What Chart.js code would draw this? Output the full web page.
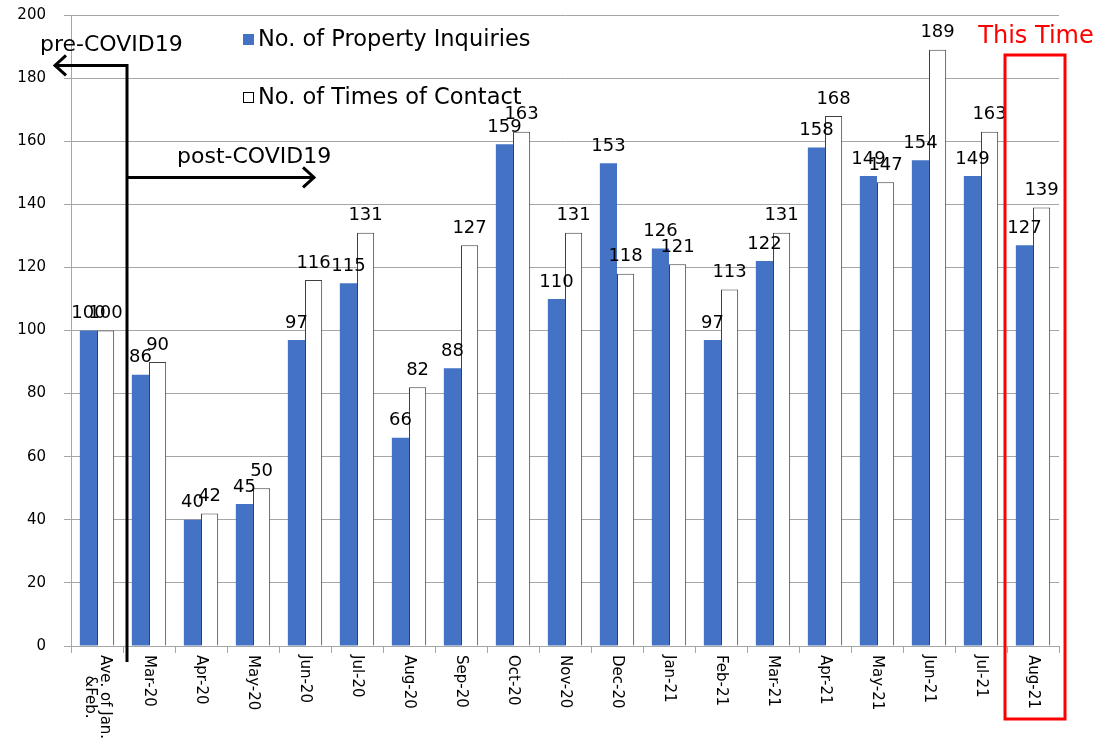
<!DOCTYPE html>
<html>
<head>
<meta charset="utf-8">
<script src="https://cdn.jsdelivr.net/npm/chart.js@4/dist/chart.umd.min.js"></script>
<style>
html,body{margin:0;padding:0;background:#fff;}
#wrap{width:1096px;height:744px;position:relative;}
</style>
</head>
<body>
<div id="wrap"><canvas id="c" width="1096" height="744"></canvas></div>
<script>
const categories = ["Ave. of Jan.\n&Feb.","Mar-20","Apr-20","May-20","Jun-20","Jul-20","Aug-20","Sep-20","Oct-20","Nov-20","Dec-20","Jan-21","Feb-21","Mar-21","Apr-21","May-21","Jun-21","Jul-21","Aug-21"];
const inquiries = [100,86,40,45,97,115,66,88,159,110,153,126,97,122,158,149,154,149,127];
const contacts  = [100,90,42,50,116,131,82,127,163,131,118,121,113,131,168,147,189,163,139];
const yTicks = [0,20,40,60,80,100,120,140,160,180,200];
const seriesNames = ["No. of Property Inquiries","No. of Times of Contact"];

const FONT = '"DejaVu Sans", Verdana, sans-serif';
const GRID = '#a6a6a6';

const drawPlugin = {
  id: 'custom',
  afterDatasetsDraw(chart) {
    const ctx = chart.ctx;
    const xs = chart.scales.x, ys = chart.scales.y;
    ctx.save();
    // data labels
    ctx.font = '18px ' + FONT;
    ctx.fillStyle = '#000';
    ctx.textAlign = 'center';
    ctx.textBaseline = 'bottom';
    chart.data.datasets.forEach((ds, di) => {
      const meta = chart.getDatasetMeta(di);
      meta.data.forEach((el, i) => {
        ctx.fillText(String(ds.data[i]), el.x, el.y - 8);
      });
    });
    // x labels rotated clockwise
    ctx.font = '15px ' + FONT;
    ctx.textBaseline = 'middle';
    ctx.textAlign = 'left';
    categories.forEach((lab, i) => {
      const x = xs.getPixelForTick(i);
      const lines = lab.split('\n');
      const widths = lines.map(l => ctx.measureText(l).width);
      const maxW = Math.max(...widths);
      const lh = 15;
      ctx.save();
      ctx.translate(x, xs.top + 9);
      ctx.rotate(Math.PI / 2);
      lines.forEach((l, li) => {
        const off = (li - (lines.length - 1) / 2) * lh;
        ctx.fillText(l, (maxW - widths[li]) / 2, off);
      });
      ctx.restore();
    });
    // legend
    ctx.font = '22.5px ' + FONT;
    ctx.textAlign = 'left';
    ctx.textBaseline = 'middle';
    const legY = [39, 97];
    chart.data.datasets.forEach((ds, di) => {
      ctx.fillStyle = ds.backgroundColor;
      ctx.fillRect(243, legY[di] - 5, 11, 11);
      if (di === 1) {
        ctx.strokeStyle = '#000';
        ctx.lineWidth = 1;
        ctx.strokeRect(243.5, legY[di] - 4.5, 10, 10);
      }
      ctx.fillStyle = '#000';
      ctx.fillText(seriesNames[di], 258, legY[di] + 1);
    });
    // arrows
    const vx = (xs.getPixelForTick(0) + xs.getPixelForTick(1)) / 2 + 4;
    const yTop = ys.getPixelForValue(184);
    const yMid = ys.getPixelForValue(148.5);
    ctx.strokeStyle = '#000';
    ctx.lineWidth = 3;
    ctx.lineCap = 'butt';
    ctx.beginPath();
    ctx.moveTo(vx, xs.top + 16);
    ctx.lineTo(vx, yTop);
    ctx.lineTo(56, yTop);
    ctx.moveTo(vx, yMid);
    ctx.lineTo(314, yMid);
    ctx.stroke();
    ctx.beginPath();
    ctx.moveTo(66, yTop - 10); ctx.lineTo(55, yTop); ctx.lineTo(66, yTop + 10);
    ctx.moveTo(303, yMid - 10); ctx.lineTo(314, yMid); ctx.lineTo(303, yMid + 10);
    ctx.stroke();
    ctx.fillStyle = '#000';
    ctx.font = '22px ' + FONT;
    ctx.textAlign = 'left';
    ctx.textBaseline = 'middle';
    ctx.fillText('pre-COVID19', 40, 45);
    ctx.fillText('post-COVID19', 177, 157);
    // red box
    const lastX = xs.getPixelForTick(categories.length - 1);
    ctx.strokeStyle = '#ff0000';
    ctx.lineWidth = 3;
    ctx.strokeRect(lastX - 28, 55, 60, 664);
    ctx.fillStyle = '#ff0000';
    ctx.font = '24px ' + FONT;
    ctx.textAlign = 'center';
    ctx.fillText('This Time', 1036, 37);
    ctx.restore();
  }
};

new Chart(document.getElementById('c'), {
  type: 'bar',
  data: {
    labels: categories,
    datasets: [
      { label: seriesNames[0], data: inquiries, backgroundColor: '#4472C4', borderWidth: 0,
        categoryPercentage: 0.66, barPercentage: 1.0 },
      { label: seriesNames[1], data: contacts, backgroundColor: '#ffffff', borderColor: '#404040', borderWidth: 1,
        categoryPercentage: 0.66, barPercentage: 1.0 }
    ]
  },
  options: {
    responsive: false,
    animation: false,
    layout: { padding: { top: 15, right: 37, bottom: 0, left: 0 } },
    plugins: { legend: { display: false }, tooltip: { enabled: false } },
    scales: {
      x: {
        offset: true,
        grid: { display: true, drawOnChartArea: false, offset: true, color: GRID, tickLength: 7 },
        border: { display: true, color: GRID },
        ticks: { display: false },
        afterFit(s) { s.height = 98; s.paddingLeft = 0; s.paddingRight = 0; }
      },
      y: {
        min: 0, max: 200,
        afterBuildTicks(s) { s.ticks = yTicks.map(v => ({ value: v })); },
        grid: { color: GRID, tickLength: 7 },
        border: { display: true, color: GRID },
        ticks: { font: { family: FONT, size: 15 }, color: '#000', padding: 18 },
        afterFit(s) { s.width = 71; s.paddingTop = 0; s.paddingBottom = 0; }
      }
    }
  },
  plugins: [drawPlugin]
});
</script>
</body>
</html>
